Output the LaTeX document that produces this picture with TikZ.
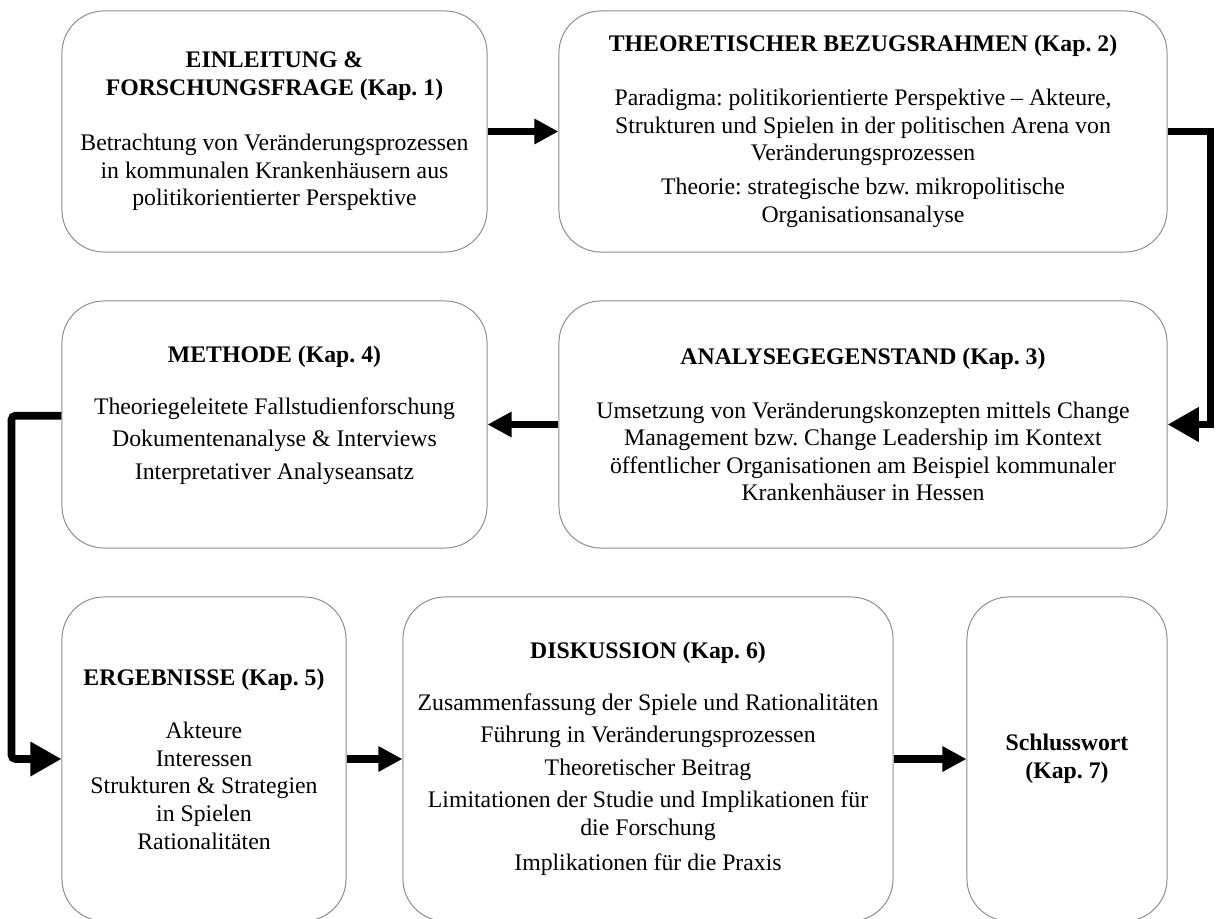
\documentclass[tikz,border=0pt]{standalone}
\usepackage{fontspec}
\setmainfont{Liberation Serif}
\usetikzlibrary{arrows.meta}
\frenchspacing
\begin{document}
\begin{tikzpicture}[x=0.025cm,y=-0.025cm,
  kapbox/.style={draw=black!45,line width=0.7pt,rounded corners=1.05cm,align=center,inner sep=0pt,font=\fontsize{16.9pt}{19.6pt}\selectfont},
  pfeil/.style={line width=0.18cm,-{Triangle[length=0.6cm,width=0.6cm]}},
  knick/.style={line width=0.19cm,-{Triangle[length=0.78cm,width=0.82cm]}}]
\useasboundingbox (0,0) rectangle (1216,919);
\node[kapbox,minimum width=10.625cm,minimum height=6.025cm] (einleitung) at (274.5,131.5) {\textbf{EINLEITUNG \&}\\\textbf{FORSCHUNGSFRAGE (Kap. 1)}\\[0.7cm]Betrachtung von Veränderungsprozessen\\in kommunalen Krankenhäusern aus\\politikorientierter Perspektive};
\node[kapbox,minimum width=15.2cm,minimum height=6.025cm] (theorie) at (863,131.5) {\textbf{THEORETISCHER BEZUGSRAHMEN (Kap. 2)}\\[0.65cm]Paradigma: politikorientierte Perspektive – Akteure,\\Strukturen und Spielen in der politischen Arena von\\Veränderungsprozessen\\[0.17cm]Theorie: strategische bzw. mikropolitische\\Organisationsanalyse};
\node[kapbox,minimum width=15.2cm,minimum height=6.175cm] (analyse) at (863,424.5) {\textbf{ANALYSEGEGENSTAND (Kap. 3)}\\[0.65cm]Umsetzung von Veränderungskonzepten mittels Change\\Management bzw. Change Leadership im Kontext\\öffentlicher Organisationen am Beispiel kommunaler\\Krankenhäuser in Hessen};
\node[kapbox,minimum width=10.625cm,minimum height=6.175cm] (methode) at (274.5,424.5) {\textbf{METHODE (Kap. 4)}\\[0.6cm]Theoriegeleitete Fallstudienforschung\\[0.12cm]Dokumentenanalyse \& Interviews\\[0.12cm]Interpretativer Analyseansatz\\[-0.1cm]~};
\node[kapbox,minimum width=7.1cm,minimum height=8.1cm] (ergebnisse) at (204,759) {\textbf{ERGEBNISSE (Kap. 5)}\\[0.65cm]Akteure\\Interessen\\Strukturen \& Strategien\\in Spielen\\Rationalitäten};
\node[kapbox,minimum width=12.25cm,minimum height=8.1cm] (diskussion) at (648,759) {\textbf{DISKUSSION (Kap. 6)}\\[0.6cm]Zusammenfassung der Spiele und Rationalitäten\\[0.12cm]Führung in Veränderungsprozessen\\[0.12cm]Theoretischer Beitrag\\[0.12cm]Limitationen der Studie und Implikationen für\\die Forschung\\[0.2cm]Implikationen für die Praxis};
\node[kapbox,minimum width=5cm,minimum height=8.1cm] (schluss) at (1067,759) {\textbf{Schlusswort}\\\textbf{(Kap. 7)}};
\draw[pfeil] (einleitung) -- (theorie);
\draw[knick] (theorie.east) -- ++(43,0) |- (analyse.east);
\draw[pfeil] (analyse) -- (methode);
\draw[knick,rounded corners=0.1cm] ([yshift=0.22cm]methode.west) -- ++(-50,0) |- (ergebnisse.west);
\draw[pfeil] (ergebnisse) -- (diskussion);
\draw[pfeil] (diskussion) -- (schluss);
\end{tikzpicture}
\end{document}
